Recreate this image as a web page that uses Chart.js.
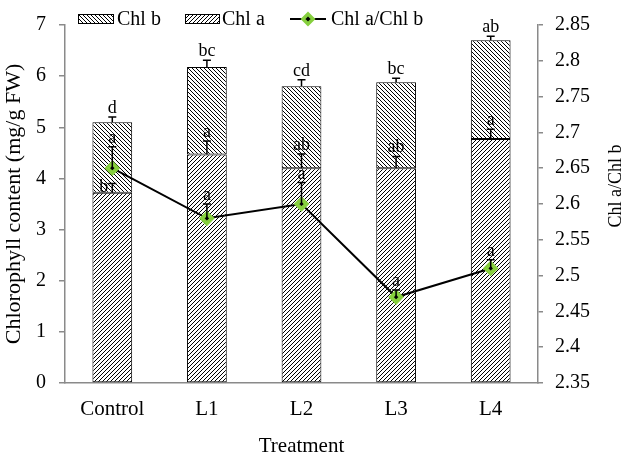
<!DOCTYPE html>
<html><head><meta charset="utf-8">
<script src="https://cdn.jsdelivr.net/npm/chart.js@4/dist/chart.umd.min.js"></script>
<style>html,body{margin:0;padding:0;background:#fff}#wrap{width:626px;height:460px}</style>
</head><body><div id="wrap"><canvas id="c" width="626" height="460"></canvas></div>
<script>
// ---------- data ----------
const categories = ['Control', 'L1', 'L2', 'L3', 'L4'];
const chlA = [3.72, 4.47, 4.20, 4.20, 4.77];
const chlB = [1.38, 1.71, 1.60, 1.68, 1.93];
const chlAErr = [0.18, 0.26, 0.28, 0.23, 0.19];
const chlBErr = [0.10, 0.13, 0.13, 0.08, 0.08];
const ratio = [2.65, 2.58, 2.60, 2.47, 2.51];
const ratioErr = [0.03, 0.02, 0.03, 0.01, 0.012];
const chlALetters = ['b', 'a', 'ab', 'ab', 'a'];
const totalLetters = ['d', 'bc', 'cd', 'bc', 'ab'];
const ratioLetters = ['a', 'a', 'a', 'a', 'a'];
const leftTicks = [0, 1, 2, 3, 4, 5, 6, 7];
const rightTicks = [2.35, 2.4, 2.45, 2.5, 2.55, 2.6, 2.65, 2.7, 2.75, 2.8, 2.85];
const rightTickLabels = ['2.35', '2.4', '2.45', '2.5', '2.55', '2.6', '2.65', '2.7', '2.75', '2.8', '2.85'];
const seriesNames = ['Chl b', 'Chl a', 'Chl a/Chl b'];
const xTitle = 'Treatment';
const yTitle = 'Chlorophyll content (mg/g FW)';
const y1Title = 'Chl a/Chl b';

// ---------- styles ----------
const FONT = '"Liberation Serif", "Times New Roman", serif';
const AXIS = '#8a8a8a';
const GREEN = '#86cf3e';

function hatch(dir) {
  const s = 4;
  const c = document.createElement('canvas');
  c.width = s; c.height = s;
  const g = c.getContext('2d');
  g.fillStyle = '#fff'; g.fillRect(0, 0, s, s);
  g.strokeStyle = '#000'; g.lineWidth = 1;
  g.beginPath();
  for (let k = -1; k <= 1; k++) {
    const x0 = k * s;
    if (dir === '/') { g.moveTo(x0, s); g.lineTo(x0 + s, 0); }
    else { g.moveTo(x0, 0); g.lineTo(x0 + s, s); }
  }
  g.stroke();
  return document.getElementById('c').getContext('2d').createPattern(c, 'repeat');
}
const patA = hatch('/');
const patB = hatch('\\');

const errorPlugin = {
  id: 'errs',
  afterDatasetsDraw(chart) {
    const ctx = chart.ctx;
    const y = chart.scales.y, y1 = chart.scales.y1;
    const metaA = chart.getDatasetMeta(1);
    const metaL = chart.getDatasetMeta(2);
    ctx.save();
    ctx.strokeStyle = '#000';
    ctx.lineWidth = 1.5;
    ctx.fillStyle = '#000';
    ctx.font = '18px ' + FONT;
    ctx.textAlign = 'center';
    ctx.textBaseline = 'alphabetic';
    const bar = (x, yb, yt) => {
      ctx.beginPath();
      ctx.moveTo(x, yb); ctx.lineTo(x, yt);
      ctx.moveTo(x - 4, yt); ctx.lineTo(x + 4, yt);
      ctx.stroke();
    };
    categories.forEach((c, i) => {
      const x = metaA.data[i].x;
      // Chl a
      const ya = y.getPixelForValue(chlA[i]);
      const yae = y.getPixelForValue(chlA[i] + chlAErr[i]);
      bar(x, ya, yae);
      const yr = y1.getPixelForValue(ratio[i]);
      if (Math.abs(yr - yae) < 25) {
        ctx.textAlign = 'right';
        ctx.fillText(chlALetters[i], x - 4, ya - 1);
        ctx.textAlign = 'center';
      } else {
        ctx.fillText(chlALetters[i], x, yae - 4);
      }
      // total
      const tot = chlA[i] + chlB[i];
      const yt = y.getPixelForValue(tot);
      const yte = y.getPixelForValue(tot + chlBErr[i]);
      bar(x, yt, yte);
      ctx.fillText(totalLetters[i], x, yte - 4);
      // ratio
      const xr = metaL.data[i].x;
      const yre = y1.getPixelForValue(ratio[i] + ratioErr[i]);
      bar(xr, yr, yre);
      ctx.fillText(ratioLetters[i], xr, yre - 4);
    });
    ctx.restore();
  },
  afterDraw(chart) {
    const ctx = chart.ctx;
    ctx.save();
    ctx.font = '20px ' + FONT;
    ctx.fillStyle = '#000';
    ctx.textBaseline = 'middle';
    ctx.textAlign = 'left';
    const ly = 19;
    // Chl b
    ctx.fillStyle = patB; ctx.fillRect(78, 14, 36, 10);
    ctx.strokeStyle = '#000'; ctx.lineWidth = 1; ctx.strokeRect(78.5, 14.5, 35, 9);
    ctx.fillStyle = '#000'; ctx.fillText(seriesNames[0], 117, ly + 1);
    // Chl a
    ctx.fillStyle = patA; ctx.fillRect(185, 14, 35, 10);
    ctx.strokeRect(185.5, 14.5, 34, 9);
    ctx.fillStyle = '#000'; ctx.fillText(seriesNames[1], 222, ly + 1);
    // ratio line
    ctx.strokeStyle = '#000'; ctx.lineWidth = 2;
    ctx.beginPath(); ctx.moveTo(290, ly); ctx.lineTo(326, ly); ctx.stroke();
    ctx.beginPath();
    ctx.moveTo(308, ly - 5); ctx.lineTo(313, ly); ctx.lineTo(308, ly + 5); ctx.lineTo(303, ly); ctx.closePath();
    ctx.fillStyle = '#000'; ctx.fill();
    ctx.strokeStyle = GREEN; ctx.lineWidth = 3.5; ctx.stroke();
    ctx.fillStyle = '#000'; ctx.fillText(seriesNames[2], 331, ly + 1);
    // right axis title (reads bottom to top)
    ctx.font = '18px ' + FONT;
    ctx.translate(616, 186);
    ctx.rotate(-Math.PI / 2);
    ctx.textAlign = 'center';
    ctx.fillText(y1Title, 0, 0);
    ctx.restore();
  }
};

new Chart(document.getElementById('c'), {
  data: {
    labels: categories,
    datasets: [
      { type: 'line', label: seriesNames[2], data: ratio, yAxisID: 'y1', order: 0,
        borderColor: '#000', borderWidth: 2, pointStyle: 'rectRot', pointRadius: 5,
        pointBackgroundColor: '#000', pointBorderColor: GREEN, pointBorderWidth: 4, tension: 0 },
      { type: 'bar', label: seriesNames[1], data: chlA, yAxisID: 'y', stack: 'chl', order: 1,
        backgroundColor: patA, borderColor: '#000', borderWidth: 1, borderSkipped: false,
        barPercentage: 0.42, categoryPercentage: 1 },
      { type: 'bar', label: seriesNames[0], data: chlB, yAxisID: 'y', stack: 'chl', order: 1,
        backgroundColor: patB, borderColor: '#000', borderWidth: 1, borderSkipped: false,
        barPercentage: 0.42, categoryPercentage: 1 }
    ]
  },
  options: {
    responsive: false,
    animation: false,
    devicePixelRatio: 1,
    layout: { padding: { top: 13, left: 0, right: 0, bottom: 0 } },
    plugins: { legend: { display: false }, tooltip: { enabled: false } },
    scales: {
      x: {
        stacked: true,
        grid: { display: false, drawTicks: false },
        border: { color: AXIS, width: 1.5 },
        ticks: { padding: 14, color: '#000', font: { family: FONT, size: 21 } },
        title: { display: true, text: xTitle, color: '#000', font: { family: FONT, size: 21 }, padding: { top: 0, bottom: 1 } },
        afterFit: s => { s.height = 77; }
      },
      y: {
        stacked: true, position: 'left', min: 0, max: 7,
        afterBuildTicks: s => { s.ticks = leftTicks.map(v => ({ value: v })); },
        grid: { drawOnChartArea: false, drawTicks: true, tickLength: 6, color: AXIS, lineWidth: 1.5 },
        border: { color: AXIS, width: 1.5 },
        ticks: { padding: 13, color: '#000', font: { family: FONT, size: 20 } },
        title: { display: true, text: yTitle, color: '#000', font: { family: FONT, size: 22 }, padding: { top: 1, bottom: 0 } },
        afterFit: s => { s.width = 65; }
      },
      y1: {
        position: 'right', min: 2.35, max: 2.85,
        afterBuildTicks: s => { s.ticks = rightTicks.map(v => ({ value: v })); },
        grid: { drawOnChartArea: false, drawTicks: true, tickLength: 5, color: AXIS, lineWidth: 1.5 },
        border: { color: AXIS, width: 1.5 },
        ticks: { padding: 12, color: '#000', font: { family: FONT, size: 20 },
          callback: (v, i) => rightTickLabels[i] },
        afterFit: s => { s.width = 88; }
      }
    }
  },
  plugins: [errorPlugin]
});
</script>
</body></html>
